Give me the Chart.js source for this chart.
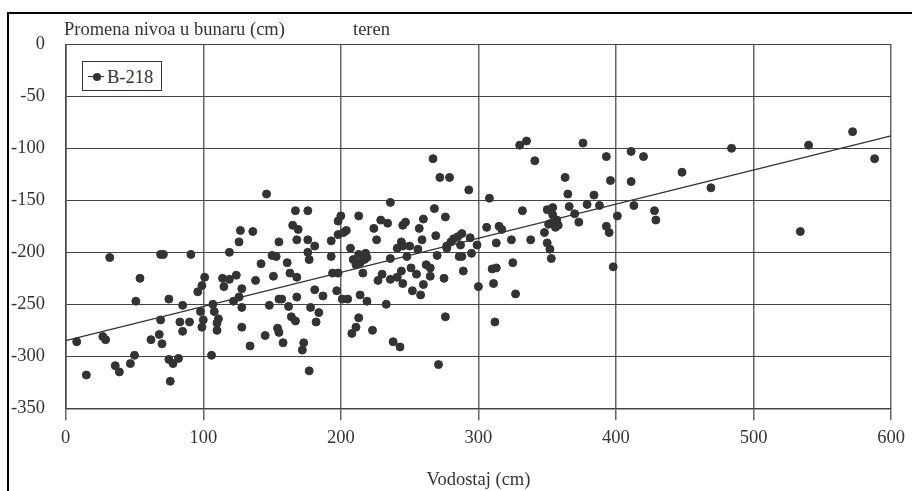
<!DOCTYPE html>
<html>
<head>
<meta charset="utf-8">
<script src="https://cdn.jsdelivr.net/npm/chart.js@4.4.1/dist/chart.umd.min.js"></script>
<style>
  body { margin: 0; width: 912px; height: 491px; overflow: hidden; position: relative; background: #fff; }
  #frame { position: absolute; left: 7px; top: 12px; width: 1000px; height: 1000px; border: 2px solid #000; }
  #wrap { position: absolute; left: 0; top: 0; width: 912px; height: 491px; }
  .txt { position: absolute; font-family: "Liberation Serif", "Times New Roman", serif; font-size: 18.5px; line-height: 1; color: #333; white-space: nowrap; }
  #legend { position: absolute; left: 82px; top: 61px; width: 78px; height: 28px; border: 1px solid #333; background: #fff; }
  #legend .ln { position: absolute; left: 5px; top: 14px; width: 16px; height: 1px; background: #333; }
  #legend .dot { position: absolute; left: 10px; top: 11px; width: 8px; height: 8px; border-radius: 50%; background: #333; }
  #legend .txt { left: 24px; top: 6px; }
</style>
</head>
<body>
<div id="frame"></div>
<div id="wrap"><canvas id="chart" width="912" height="491"></canvas></div>
<div class="txt" style="left:64px; top:20px;">Promena nivoa u bunaru (cm)</div>
<div class="txt" style="left:353px; top:20px;">teren</div>
<div id="legend"><div class="ln"></div><div class="dot"></div><div class="txt">B-218</div></div>
<script>
// B-218: vodostaj (cm) i promena nivoa u bunaru (cm)
const vodostaj = [
  8, 15, 32, 27, 29, 36, 39, 47, 50, 51, 54, 62, 68, 70, 69, 69, 71, 75, 75, 78,
  76, 82, 85, 83, 85, 90, 91, 96, 99, 101, 98, 100, 99, 106, 107, 108, 110, 111, 110, 114,
  115, 119, 119, 124, 122, 126, 128, 128, 128, 126, 127, 136, 134, 138, 142, 145, 148, 151, 150, 153,
  154, 155, 158, 155, 157, 155, 161, 162, 164, 167, 163, 165, 167, 168, 168, 168,
  146, 176, 169, 176, 181, 193, 198, 200, 198, 204, 207, 213, 224, 226, 229, 234, 236, 245, 247, 256,
  257, 260, 259, 267, 272, 279, 268, 276, 269, 282,
  293, 308, 330, 335, 341, 363, 365, 366, 370, 332, 350, 354, 354, 357, 353, 358, 356, 351, 348, 350,
  352, 353, 338, 324, 325, 327, 313, 306, 315, 317, 310, 313, 311, 312, 300, 299, 295, 294, 289, 288,
  285, 280, 287, 286, 288, 277, 277, 270, 275, 276, 271, 262, 265, 265, 260, 258, 252, 255, 251, 248,
  244, 245, 241, 250, 244, 245, 241, 236, 236, 238, 243, 233, 230, 227, 223, 219, 214, 216, 213, 211,
  208, 213, 218, 219, 217, 214, 211, 209, 202, 193, 194, 198, 197, 201, 205, 176, 177, 181, 187, 178,
  184, 182, 173, 172, 177,
  376, 393, 411, 396, 411, 384, 379, 388, 373, 393, 395, 401, 413, 420, 484, 540, 572, 588, 448, 469,
  534, 428, 429, 398
];
const promena = [
  -286, -318, -205, -281, -284, -309, -315, -307, -299, -247, -225, -284, -279, -288, -265, -202, -202, -245, -303, -307,
  -324, -302, -251, -267, -276, -267, -202, -238, -232, -224, -257, -265, -272, -299, -250, -257, -268, -264, -275, -225,
  -233, -226, -200, -222, -247, -243, -253, -235, -272, -190, -179, -180, -290, -227, -211, -280, -251, -223, -203, -204,
  -273, -277, -287, -245, -245, -190, -210, -252, -262, -266, -220, -174, -160, -188, -224, -243,
  -144, -160, -178, -188, -194, -189, -170, -165, -183, -179, -196, -165, -177, -188, -169, -172, -152, -174, -171, -197,
  -177, -168, -188, -110, -128, -128, -158, -166, -184, -187,
  -140, -148, -97, -93, -112, -128, -144, -156, -163, -160, -159, -157, -164, -169, -172, -174, -176, -173, -181, -191,
  -197, -206, -188, -188, -210, -240, -191, -176, -175, -178, -216, -215, -230, -267, -233, -193, -201, -186, -218, -182,
  -185, -190, -193, -204, -204, -194, -196, -203, -225, -262, -308, -212, -215, -223, -231, -241, -237, -221, -215, -204,
  -190, -194, -196, -194, -218, -230, -224, -206, -226, -286, -291, -250, -221, -227, -275, -247, -241, -220, -263, -272,
  -278, -202, -201, -205, -207, -210, -212, -207, -181, -204, -220, -220, -237, -245, -245, -200, -207, -236, -242, -253,
  -258, -267, -287, -294, -314,
  -95, -108, -103, -131, -132, -145, -154, -155, -171, -175, -181, -165, -155, -108, -100, -97, -84, -110, -123, -138,
  -180, -160, -169, -214
];
// linija trenda
const trendX = [0, 600];
const trendY = [-285, -88];

const points = vodostaj.map((x, i) => ({ x: x, y: promena[i] }));
const trend = trendX.map((x, i) => ({ x: x, y: trendY[i] }));

Chart.defaults.font.family = 'Liberation Serif';
Chart.defaults.font.size = 18.5;
Chart.defaults.color = '#333';

function draw() {
  const ctx = document.getElementById('chart').getContext('2d');
  new Chart(ctx, {
    type: 'scatter',
    data: {
      datasets: [{
        label: 'B-218',
        data: points,
        backgroundColor: '#333',
        borderColor: '#333',
        pointRadius: 4,
        pointHoverRadius: 4,
        order: 1,
      }, {
        type: 'line',
        label: 'trend',
        data: trend,
        borderColor: '#333',
        borderWidth: 1.3,
        pointRadius: 0,
        fill: false,
        order: 2,
      }],
    },
    options: {
      responsive: false,
      animation: false,
      layout: { padding: { left: 0, top: 44.3, right: 15.3, bottom: 0 } },
      plugins: { legend: { display: false }, tooltip: { enabled: false } },
      scales: {
        x: {
          type: 'linear', min: 0, max: 600,
          ticks: { stepSize: 100, padding: 7 },
          grid: { color: '#666', lineWidth: 1.5, tickLength: 12 },
          border: { color: '#444', width: 1.5 },
          title: { display: true, text: 'Vodostaj (cm)', padding: { top: 0, bottom: 0 } },
          afterFit: (s) => { s.height = 82.7; },
        },
        y: {
          min: -350, max: 0,
          ticks: { stepSize: 50, padding: 20.7 },
          grid: { color: '#444', lineWidth: 1, drawTicks: false },
          border: { color: '#444', width: 1.5 },
          afterFit: (s) => { s.width = 65.7; },
        },
      },
    },
  });
}

document.fonts.load('18.5px "Liberation Serif"').then(draw, draw);
</script>
</body>
</html>
